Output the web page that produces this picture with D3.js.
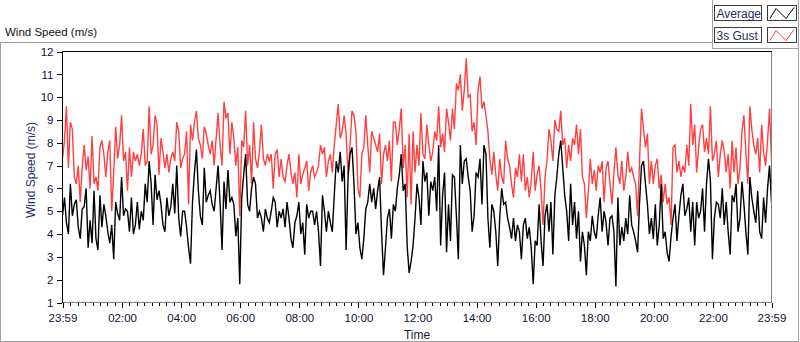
<!DOCTYPE html>
<html>
<head>
<meta charset="utf-8">
<script src="https://cdn.jsdelivr.net/npm/d3@7"></script>
<style>
  html, body { margin: 0; padding: 0; background: #fff; }
  svg { display: block; font-family: "Liberation Sans", Arial, sans-serif; }
</style>
</head>
<body>
<div class="container"></div>
<script>
// chart size and the plot area inside it
const width = 800;
const height = 342;
const margin = { top: 51.5, bottom: 39.5, left: 62.5, right: 28.5 };

// time settings: one reading every 4 minutes, 23:59 to 23:59 next day
const startTime = new Date(2000, 0, 1, 23, 59);
const endTime = new Date(2000, 0, 2, 23, 59);
const stepMinutes = 4;

// y axis tick labels
const yTicks = [1, 2, 3, 4, 5, 6, 7, 8, 9, 10, 11, 12];
// labelled hours on the time axis
const labelHours = [2, 4, 6, 8, 10, 12, 14, 16, 18, 20, 22];

const seriesNames = ["Average", "3s Gust"];

// average wind speed (m/s)
const avgSpeed = [
  4.8, 5.6, 4.5, 4.0, 6.2, 4.8, 5.3, 5.5, 4.3, 3.8,
  5.1, 5.2, 6.0, 3.4, 4.6, 3.6, 5.9, 3.8, 3.3, 5.7,
  4.3, 5.3, 4.8, 4.1, 3.6, 4.4, 2.9, 5.4, 4.9, 4.6,
  6.5, 4.8, 5.1, 5.0, 4.1, 5.6, 4.0, 4.4, 5.4, 4.2,
  5.0, 4.6, 6.2, 5.4, 7.2, 6.2, 4.4, 6.6, 5.5, 5.9,
  5.3, 4.4, 4.1, 5.6, 4.8, 5.2, 6.2, 4.9, 7.0, 4.7,
  3.9, 5.0, 5.0, 4.3, 3.4, 2.7, 5.4, 6.7, 7.7, 5.9,
  4.8, 4.4, 6.9, 5.4, 5.7, 5.9, 5.3, 5.0, 6.0, 7.0,
  5.4, 3.3, 6.3, 5.1, 6.8, 5.4, 5.6, 5.3, 3.9, 4.7,
  1.8,
  5.6, 6.6, 7.5, 5.3, 5.0, 6.0, 6.5, 6.2, 4.7, 5.0,
  4.7, 4.1, 5.1, 4.7, 4.5, 5.0, 5.6, 5.4, 4.3, 5.0,
  4.7, 5.1, 4.3, 5.4, 4.7, 3.8, 3.4, 4.5, 4.8, 5.4,
  4.0, 4.5, 3.1, 5.3, 4.7, 5.0, 5.0, 4.4, 5.0, 4.1,
  2.6, 5.7, 5.0, 4.1, 5.0, 4.5, 4.1, 5.7, 7.2, 6.7,
  7.6, 6.3, 7.0, 3.3, 6.5, 7.5, 7.8, 6.2, 4.0, 4.5,
  3.4, 2.9, 3.8, 5.1, 5.4, 6.2, 5.4, 6.0, 5.1, 5.9,
  6.5, 4.1, 2.2, 3.4, 4.7, 5.1, 3.8, 5.3, 5.0, 6.0,
  6.6, 7.5, 5.9, 6.2, 3.5, 2.3, 2.8, 3.5, 4.7, 6.2,
  5.6, 4.4, 7.2, 6.3, 6.7, 4.8, 6.3, 5.9, 6.5, 5.0,
  7.9, 3.5, 5.7, 6.7, 3.2, 5.3, 3.7, 6.6, 6.5, 4.8,
  2.9, 7.9, 6.2, 7.2, 7.3, 6.5, 5.9, 4.1, 4.8, 6.7,
  6.5, 7.3, 5.3, 7.9, 7.5, 4.7, 3.4, 5.3, 5.0, 4.1,
  2.6, 4.7, 6.0, 5.3, 5.4, 4.7, 4.3, 3.8, 4.7, 3.7,
  4.4, 4.1, 2.9, 4.4, 4.7, 3.8, 4.3, 3.4, 1.8, 3.7,
  3.5, 5.3, 3.7, 2.6, 4.8, 5.3, 4.1, 5.4, 3.1, 5.7,
  6.5, 7.5, 8.1, 6.9, 5.7, 5.0, 3.7, 6.2, 4.4, 5.4,
  3.8, 5.0, 2.8, 4.1, 3.5, 2.2, 4.1, 3.7, 4.8, 4.1,
  3.8, 4.8, 5.6, 4.1, 5.0, 4.5, 3.5, 4.7, 4.8, 4.1,
  1.7, 5.6, 3.5, 4.3, 3.7, 4.7, 4.0, 5.7, 4.4, 4.1,
  3.7, 3.2, 5.4, 7.0, 7.2, 6.2, 5.3, 4.0, 4.7, 3.8,
  5.3, 3.5, 4.4, 6.2, 3.8, 4.1, 3.2, 2.8, 3.9, 4.7,
  5.3, 3.7, 4.8, 5.7, 6.2, 4.8, 5.1, 5.6, 4.1, 5.4,
  3.5, 5.4, 4.7, 5.0, 6.0, 4.1, 6.2, 7.3, 6.3, 2.9,
  4.7, 5.4, 5.3, 4.7, 6.0, 4.4, 5.4, 4.1, 3.1, 5.7,
  5.4, 6.2, 4.1, 4.7, 6.3, 5.3, 4.1, 3.1, 6.5, 5.6,
  5.0, 4.5, 5.9, 4.1, 3.8, 5.6, 4.5, 6.0, 7.0, 5.4
];

// 3 second gust (m/s)
const gustSpeed = [
  7.3, 8.1, 9.6, 6.9, 8.9, 8.6, 6.5, 6.2, 7.0, 5.4,
  6.9, 7.9, 6.8, 7.4, 6.0, 8.3, 6.2, 6.5, 5.9, 7.8,
  8.1, 7.5, 6.5, 7.6, 8.1, 5.0, 6.7, 8.7, 7.3, 7.9,
  9.2, 7.2, 7.6, 5.9, 7.8, 6.5, 7.6, 7.2, 7.5, 7.0,
  7.5, 8.6, 7.0, 7.2, 9.6, 7.5, 7.9, 9.2, 8.8, 6.6,
  8.2, 7.6, 6.9, 7.5, 6.7, 7.3, 7.6, 7.2, 8.9, 8.5,
  6.9, 7.3, 7.5, 8.5, 5.3, 8.8, 8.1, 8.9, 9.4, 8.2,
  7.9, 7.3, 8.7, 8.4, 7.9, 7.5, 8.1, 7.0, 8.2, 9.3,
  7.9, 7.0, 9.8, 9.1, 9.3, 7.5, 8.9, 8.2, 7.0, 7.8,
  4.8,
  8.1, 7.8, 9.4, 7.0, 7.9, 6.2, 8.9, 7.3, 6.9, 7.6,
  8.8, 7.3, 7.0, 7.5, 7.2, 7.5, 6.0, 7.5, 7.7, 6.5,
  7.3, 6.5, 6.3, 7.0, 7.5, 6.7, 6.2, 6.7, 5.6, 7.5,
  6.2, 6.6, 6.9, 7.2, 5.9, 6.7, 7.0, 6.5, 6.7, 7.0,
  7.9, 7.5, 7.8, 6.5, 7.2, 7.5, 6.7, 7.9, 8.8, 9.7,
  8.2, 8.5, 9.2, 8.4, 6.6, 7.9, 9.4, 9.2, 8.5, 6.0,
  5.6, 7.5, 7.8, 9.2, 7.9, 6.7, 8.5, 8.2, 7.9, 7.6,
  8.4, 6.2, 7.5, 7.9, 7.2, 8.1, 6.3, 8.9, 8.9, 7.9,
  8.6, 9.5, 6.9, 7.9, 5.6, 8.4, 5.3, 8.5, 6.7, 7.9,
  7.0, 9.3, 7.5, 7.3, 8.8, 7.9, 7.2, 7.6, 8.5, 8.1,
  9.6, 7.8, 8.4, 7.6, 9.5, 8.9, 8.1, 9.5, 8.6, 10.6,
  10.3, 11.0, 9.4, 10.3, 11.7, 10.0, 10.1, 8.5, 8.9, 7.9,
  10.3, 10.9, 9.5, 9.8, 9.2, 8.5, 7.3, 6.6, 7.6, 6.6,
  5.9, 7.3, 6.5, 6.2, 8.1, 7.3, 7.0, 6.2, 5.6, 6.9,
  6.5, 7.5, 6.3, 7.5, 5.9, 6.5, 5.6, 6.3, 7.6, 5.9,
  6.6, 7.0, 5.9, 4.4, 6.5, 7.2, 8.6, 8.1, 7.2, 9.0,
  8.6, 8.5, 9.4, 7.9, 8.2, 6.9, 7.9, 7.2, 8.2, 7.9,
  8.8, 7.5, 8.6, 6.5, 6.2, 4.7, 5.9, 7.3, 6.2, 6.8,
  5.9, 7.0, 6.7, 7.2, 5.4, 6.9, 7.2, 6.2, 5.3, 6.7,
  7.8, 6.6, 6.2, 7.2, 5.9, 6.5, 7.6, 6.7, 6.9, 6.5,
  6.2, 4.8, 7.2, 9.5, 8.6, 7.8, 8.4, 6.2, 7.2, 6.2,
  7.0, 7.3, 6.0, 6.6, 5.4, 6.2, 5.3, 5.6, 4.4, 7.8,
  7.9, 6.7, 7.2, 6.5, 7.0, 6.7, 7.9, 7.0, 9.7, 7.9,
  8.8, 6.7, 7.8, 8.6, 8.8, 7.6, 8.2, 7.5, 9.6, 7.2,
  7.5, 8.1, 6.5, 7.5, 8.1, 7.6, 6.7, 7.5, 6.0, 8.1,
  6.7, 7.8, 6.2, 6.9, 8.5, 9.2, 7.6, 6.2, 9.6, 8.6,
  7.9, 7.5, 8.2, 6.7, 8.8, 7.6, 7.0, 8.1, 9.5, 7.2
];

const seriesColors = ["#000000", "#ff4040"];
const frameColor = "#a0a0a0";
const labelColor = "#10103a";
const nameColor = "#1f2d6b";

const svg = d3.select(".container")
  .append("svg")
  .attr("width", width)
  .attr("height", height);

// scales
const xScale = d3.scaleTime()
  .domain([startTime, endTime])
  .range([margin.left, width - margin.right]);

const yScale = d3.scaleLinear()
  .domain([1, 12])
  .range([height - margin.bottom, margin.top]);

// outer frame of the graph and the legend panel
const frame = svg.append("g")
  .attr("fill", "none")
  .attr("stroke", frameColor)
  .attr("shape-rendering", "crispEdges");
frame.append("path").attr("d", "M712.5,42.5H0.5V341.5H798.5V48.5");
frame.append("path").attr("d", "M712.5,0V48.5H798.5V0");

// graph title top left
svg.append("text")
  .attr("x", 5)
  .attr("y", 36)
  .attr("font-size", "11.5px")
  .attr("fill", "#111")
  .text("Wind Speed (m/s)");

// plot background
svg.append("rect")
  .attr("x", margin.left)
  .attr("y", margin.top)
  .attr("width", width - margin.left - margin.right)
  .attr("height", height - margin.top - margin.bottom)
  .attr("fill", "#fff");

svg.append("clipPath")
  .attr("id", "plot-clip")
  .append("rect")
  .attr("x", margin.left)
  .attr("y", margin.top)
  .attr("width", width - margin.left - margin.right)
  .attr("height", height - margin.top - margin.bottom);

// one line per series, gust drawn first so the average sits on top
const lineGen = d3.line()
  .x((d, i) => xScale(d3.timeMinute.offset(startTime, i * stepMinutes)))
  .y(d => yScale(d));

const plots = svg.append("g").attr("clip-path", "url(#plot-clip)");
[[gustSpeed, seriesColors[1]], [avgSpeed, seriesColors[0]]].forEach(([vals, col]) => {
  plots.append("path")
    .datum(vals)
    .attr("d", lineGen)
    .attr("fill", "none")
    .attr("stroke", col)
    .attr("stroke-width", 1.4)
    .attr("stroke-linejoin", "miter");
});

// plot border: dark top/left, grey right/bottom
svg.append("path")
  .attr("d", `M${margin.left},${height - margin.bottom}V${margin.top}H${width - margin.right}`)
  .attr("fill", "none")
  .attr("stroke", "#000")
  .attr("shape-rendering", "crispEdges");
svg.append("path")
  .attr("d", `M${width - margin.right},${margin.top}V${height - margin.bottom}H${margin.left}`)
  .attr("fill", "none")
  .attr("stroke", "#808080")
  .attr("shape-rendering", "crispEdges");

// y axis
const yAxis = svg.append("g")
  .attr("transform", `translate(${margin.left - 1},0)`)
  .call(d3.axisLeft(yScale).tickValues(yTicks).tickSize(5).tickPadding(3));
yAxis.select(".domain").remove();
yAxis.selectAll("line").attr("stroke", "#000").attr("shape-rendering", "crispEdges");
yAxis.selectAll("text")
  .attr("font-size", "11.5px")
  .attr("font-family", "Liberation Sans, Arial, sans-serif")
  .attr("fill", labelColor);

svg.append("text")
  .attr("transform", `translate(35,170) rotate(-90)`)
  .attr("text-anchor", "middle")
  .attr("font-size", "12px")
  .attr("fill", nameColor)
  .text("Wind Speed (m/s)");

// x axis: minor ticks every 15 min, labelled ticks every 2 h plus both ends
const majorTicks = [startTime]
  .concat(labelHours.map(h => new Date(2000, 0, 2, h, 0)))
  .concat([endTime]);
const minorTicks = d3.timeMinute.every(15).range(startTime, endTime)
  .filter(t => !(t.getMinutes() === 0 && t.getHours() % 2 === 0 && t.getHours() > 0));

const xMinor = svg.append("g")
  .attr("transform", `translate(0,${height - margin.bottom + 0.5})`)
  .call(d3.axisBottom(xScale).tickValues(minorTicks).tickSize(3).tickFormat(""));
xMinor.select(".domain").remove();

const xMajor = svg.append("g")
  .attr("transform", `translate(0,${height - margin.bottom + 0.5})`)
  .call(d3.axisBottom(xScale).tickValues(majorTicks).tickSize(5).tickPadding(6)
    .tickFormat(d3.timeFormat("%H:%M")));
xMajor.select(".domain").remove();

svg.selectAll(".tick line").attr("stroke", "#000").attr("shape-rendering", "crispEdges");
xMajor.selectAll("text")
  .attr("font-size", "11.5px")
  .attr("font-family", "Liberation Sans, Arial, sans-serif")
  .attr("fill", labelColor);

svg.append("text")
  .attr("x", (margin.left + width - margin.right) / 2)
  .attr("y", 338.5)
  .attr("text-anchor", "middle")
  .attr("font-size", "12px")
  .attr("fill", "#1a1a2a")
  .text("Time");

// legend: name box and a small sample of the line for each plot
const legend = svg.append("g").attr("shape-rendering", "crispEdges");
seriesNames.forEach((name, i) => {
  const top = 5.5 + i * 22;
  legend.append("rect")
    .attr("x", 714.5).attr("y", top)
    .attr("width", 47).attr("height", 15)
    .attr("fill", "#fff").attr("stroke", "#3c3c3c");
  legend.append("text")
    .attr("x", 716.5).attr("y", top + 12)
    .attr("font-size", "12px")
    .attr("fill", nameColor)
    .text(name);
  legend.append("rect")
    .attr("x", 767.5).attr("y", top)
    .attr("width", 29).attr("height", 15)
    .attr("fill", "#fff").attr("stroke", "#3c3c3c");
  legend.append("path")
    .attr("d", `M770,${top + 13}L776,${top + 3}L786,${top + 13}L794,${top + 2}`)
    .attr("fill", "none")
    .attr("stroke", seriesColors[i])
    .attr("shape-rendering", "auto");
});
</script>
</body>
</html>
